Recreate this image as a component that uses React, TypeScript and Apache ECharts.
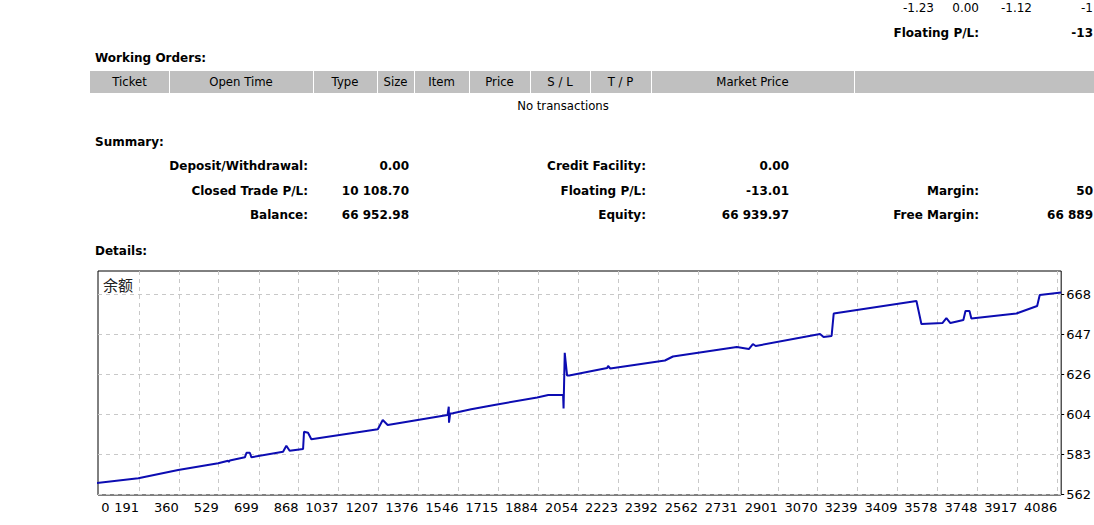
import React, { useEffect, useRef } from 'react';
import * as echarts from 'echarts';

// ---------- data ----------
const topRowValues = ['-1.23', '0.00', '-1.12', '-1'];
const topFloatingLabel = 'Floating P/L:';
const topFloatingValue = '-13';

const workingOrdersTitle = 'Working Orders:';
const orderColumns = ['Ticket', 'Open Time', 'Type', 'Size', 'Item', 'Price', 'S / L', 'T / P', 'Market Price', ''];
const noTransactionsText = 'No transactions';

const summaryTitle = 'Summary:';
const summaryCol1Labels = ['Deposit/Withdrawal:', 'Closed Trade P/L:', 'Balance:'];
const summaryCol1Values = ['0.00', '10 108.70', '66 952.98'];
const summaryCol2Labels = ['Credit Facility:', 'Floating P/L:', 'Equity:'];
const summaryCol2Values = ['0.00', '-13.01', '66 939.97'];
const summaryCol3Labels = ['', 'Margin:', 'Free Margin:'];
const summaryCol3Values = ['', '50', '66 889'];

const detailsTitle = 'Details:';
const chartTitle = '余额';

const xTickLabels = ['0', '191', '360', '529', '699', '868', '1037', '1207', '1376', '1546', '1715', '1884', '2054',
  '2223', '2392', '2562', '2731', '2901', '3070', '3239', '3409', '3578', '3748', '3917', '4086'];
const yTickValues = [56200, 58335, 60470, 62605, 64740, 66875];
const yTickLabels = ['562', '583', '604', '626', '647', '668'];

const tradeIndex = [0, 188, 357, 527, 569, 572, 576, 640, 647, 661, 668, 802, 816, 830, 887, 891, 908, 922,
  1204, 1225, 1246, 1500, 1505, 1506, 1511, 1522, 1600, 1698, 1880, 1927, 1990, 1992, 1997, 2001, 2007, 2016,
  2177, 2181, 2190, 2422, 2456, 2727, 2778, 2795, 2807, 3080, 3095, 3129, 3138, 3489, 3510, 3599, 3616, 3633,
  3688, 3697, 3714, 3722, 3913, 4001, 4012, 4103];
const balance = [56770, 57038, 57481, 57839, 57977, 57908, 57990, 58159, 58404, 58404, 58159, 58458, 58778, 58511,
  58602, 59525, 59472, 59120, 59653, 60150, 59883, 60417, 60860, 60006, 60500, 60507, 60721, 60950, 61351, 61484,
  61484, 60764, 63736, 63245, 62520, 62520, 62925, 63032, 62899, 63326, 63539, 64046, 63939, 64206, 64100, 64740,
  64580, 64633, 65829, 66501, 65274, 65327, 65594, 65327, 65487, 65968, 65968, 65562, 65834, 66234, 66822, 66953];

// ---------- layout ----------
const X_MIN = 17;
const X_MAX = 4103;
const Y_MIN = 56147;
const Y_MAX = 68103;
const colEdges = [90, 169, 313, 377, 414, 469, 530, 590, 651, 854, 1094];

const FONT = '"DejaVu Sans", sans-serif';
const bold = `bold 12px ${FONT}`;
const regular = `11.7px ${FONT}`;

function txt(text: string, x: number, y: number, font: string, align: string = 'left') {
  return {
    type: 'text',
    x,
    y,
    silent: true,
    style: { text, font, fill: '#000', textAlign: align, textVerticalAlign: 'middle' },
  };
}

function buildGraphic() {
  const els: any[] = [];
  // top row
  const topRights = [934, 979, 1032];
  topRowValues.slice(0, 3).forEach((v, i) => els.push(txt(v, topRights[i], 8, `12px ${FONT}`, 'right')));
  els.push(txt(topRowValues[3], 1093, 8, `12px ${FONT}`, 'right'));
  els.push(txt(topFloatingLabel, 979, 33, bold, 'right'));
  els.push(txt(topFloatingValue, 1093, 33, bold, 'right'));

  // working orders
  els.push(txt(workingOrdersTitle, 95, 58, bold));
  els.push({ type: 'rect', silent: true, shape: { x: colEdges[0], y: 71, width: 1094 - colEdges[0], height: 22 }, style: { fill: '#c0c0c0' } });
  for (let i = 1; i < colEdges.length - 1; i++) {
    els.push({ type: 'rect', silent: true, shape: { x: colEdges[i], y: 71, width: 1, height: 22 }, style: { fill: '#ffffff' } });
  }
  orderColumns.forEach((c, i) => {
    if (!c) return;
    els.push(txt(c, (colEdges[i] + colEdges[i + 1]) / 2, 82, regular, 'center'));
  });
  els.push(txt(noTransactionsText, 563, 106, regular, 'center'));

  // summary
  els.push(txt(summaryTitle, 95, 142, bold));
  const rowsY = [166, 190.5, 215];
  rowsY.forEach((y, i) => {
    els.push(txt(summaryCol1Labels[i], 308, y, bold, 'right'));
    els.push(txt(summaryCol1Values[i], 409, y, bold, 'right'));
    els.push(txt(summaryCol2Labels[i], 646, y, bold, 'right'));
    els.push(txt(summaryCol2Values[i], 789, y, bold, 'right'));
    if (summaryCol3Labels[i]) {
      els.push(txt(summaryCol3Labels[i], 979, y, bold, 'right'));
    }
  });
  els.push(txt(summaryCol3Values[1], 1093, rowsY[1], bold, 'right'));
  els.push(txt(summaryCol3Values[2], 1093, rowsY[2], bold, 'right'));

  els.push(txt(detailsTitle, 95, 251, bold));
  return els;
}

const xLabelValues = xTickLabels.map((l) => (l === '0' ? X_MIN : Number(l)));

export default function App() {
  const ref = useRef<HTMLDivElement>(null);
  useEffect(() => {
    const chart = echarts.init(ref.current!, null, { renderer: 'svg' });
    const labelFont = { fontFamily: FONT, fontSize: 13, color: '#000' };
    chart.setOption({
      animation: false,
      backgroundColor: '#ffffff',
      title: {
        text: chartTitle,
        left: 103,
        top: 277,
        padding: 0,
        textStyle: { fontFamily: '"Noto Sans CJK SC", sans-serif', fontSize: 15, fontWeight: 'normal', color: '#222' },
      },
      graphic: buildGraphic(),
      grid: {
        left: 98,
        top: 271,
        right: 1094 - 1063,
        bottom: 525 - 495,
        show: true,
        borderColor: '#000',
        borderWidth: 1,
        backgroundColor: '#fff',
        containLabel: false,
      },
      xAxis: {
        type: 'value',
        min: X_MIN,
        max: X_MAX,
        axisLine: { show: false },
        axisTick: { show: false, customValues: xLabelValues.slice(1) },
        splitLine: { show: true, lineStyle: { type: [4, 4], color: '#c8c8c8', width: 1 } },
        axisLabel: {
          customValues: xLabelValues,
          showMinLabel: true,
          showMaxLabel: true,
          align: 'right',
          margin: 6,
          ...labelFont,
          formatter: (v: number) => {
            const i = xLabelValues.indexOf(v);
            const label = i >= 0 ? xTickLabels[i] : '';
            return v === X_MIN ? `{z| ${label}}` : label;
          },
          rich: { z: { width: 1, align: 'left', ...labelFont } },
        },
      },
      yAxis: {
        type: 'value',
        position: 'right',
        min: Y_MIN,
        max: Y_MAX,
        axisLine: { show: false },
        axisTick: { show: true, length: 3, customValues: yTickValues, lineStyle: { color: '#000' } },
        splitLine: { show: true, lineStyle: { type: [4, 4], color: '#c8c8c8', width: 1 } },
        axisLabel: {
          customValues: yTickValues,
          showMinLabel: true,
          showMaxLabel: true,
          margin: 5,
          ...labelFont,
          formatter: (v: number) => {
            const i = yTickValues.indexOf(v);
            return i >= 0 ? yTickLabels[i] : '';
          },
        },
      },
      series: [
        {
          type: 'line',
          data: tradeIndex.map((x, i) => [x, balance[i]]),
          symbol: 'none',
          clip: true,
          lineStyle: { color: '#0c0cb2', width: 2 },
        },
      ],
    });
    return () => chart.dispose();
  }, []);
  return (
    <div
      ref={ref}
      style={{ position: 'fixed', left: 0, top: 0, width: 1094, height: 525, background: '#fff', overflow: 'hidden' }}
    />
  );
}
